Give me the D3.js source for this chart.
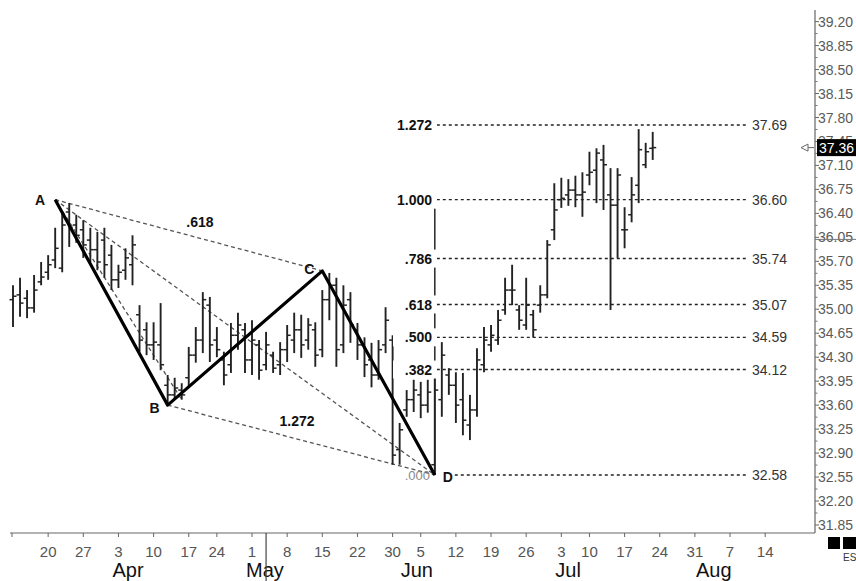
<!DOCTYPE html>
<html><head><meta charset="utf-8">
<script src="https://cdn.jsdelivr.net/npm/d3@7"></script>
<style>body{margin:0;background:#fff}svg{display:block}text{font-family:"Liberation Sans",Arial,Helvetica,sans-serif}</style>
</head><body><svg id="c" width="856" height="581"></svg>
<script>
// ---- calendar (trading days, year 2000) ----
const startDate = "2000-03-13", endDate = "2000-08-18";
const holidays = ["2000-04-21", "2000-05-29", "2000-07-04"];
const firstTickDate = "2000-03-20";
const cursorDate = "2000-05-03";

// ---- daily OHLC bars, one per trading day from startDate ----
const openP  = [35.14,35.21,35.16,35.02,35.40,35.54,35.72,35.60,36.42,36.23,36.16,36.01,35.87,36.01,35.79,35.43,35.57,35.65,34.92,34.70,
                34.48,34.48,33.89,33.75,33.82,34.00,34.33,34.55,35.06,34.55,34.26,34.19,34.62,34.70,34.26,34.48,34.19,34.33,34.19,34.41,
                34.55,34.70,34.55,34.70,34.41,35.14,35.35,34.48,35.14,34.70,34.48,34.26,34.04,34.48,34.55,32.95,33.53,33.68,33.75,33.60,
                32.73,33.68,34.04,33.89,33.68,33.31,33.53,34.19,34.48,34.55,34.99,35.28,34.99,34.77,34.92,35.06,35.21,36.16,36.60,36.67,
                36.74,36.67,36.96,37.03,37.18,36.67,36.52,36.16,36.38,36.81,37.11,37.35];
const highP  = [35.35,35.46,35.28,35.50,35.69,35.79,36.19,36.42,36.55,36.38,36.30,36.19,36.13,36.19,35.94,35.65,35.89,36.08,35.06,34.81,
                34.81,35.09,34.04,34.00,33.92,34.45,34.74,35.25,35.18,34.74,34.38,34.80,34.95,34.80,34.84,34.55,34.67,34.38,34.52,34.77,
                34.95,34.92,34.87,34.81,35.28,35.53,35.46,35.35,35.25,34.80,34.59,34.51,34.55,35.03,34.62,33.34,33.82,33.97,33.94,33.97,
                34.00,34.52,34.14,34.08,34.07,33.75,34.43,34.74,34.77,34.99,35.46,35.65,35.06,35.46,34.99,35.35,36.01,36.84,36.92,36.90,
                36.95,37.00,37.30,37.35,37.40,37.06,37.06,36.49,36.93,37.63,37.43,37.59];
const lowP   = [34.74,34.89,34.87,34.95,35.35,35.43,35.60,35.54,35.91,35.97,35.75,35.69,35.57,35.46,35.28,35.31,35.43,35.35,34.38,34.33,
                34.26,34.11,33.63,33.68,33.68,33.86,34.22,34.36,34.23,34.30,33.89,34.07,34.41,34.07,34.04,33.97,34.11,34.07,34.04,34.23,
                34.36,34.29,34.41,34.16,34.30,34.84,34.16,34.36,34.51,34.26,34.01,33.86,33.97,34.36,32.73,32.73,33.43,33.50,33.41,33.49,
                32.58,33.43,33.75,33.34,33.16,33.09,33.43,34.08,34.38,34.48,34.92,35.06,34.70,34.70,34.59,34.95,35.16,36.01,36.48,36.51,
                36.49,36.35,36.81,36.55,36.45,34.99,35.75,35.89,36.27,36.55,37.06,37.18];
const closeP = [35.19,35.09,35.02,35.28,35.47,35.65,35.89,36.23,36.19,36.08,35.94,35.87,35.69,35.65,35.43,35.54,35.75,35.94,34.55,34.48,
                34.52,34.19,33.75,33.85,33.75,34.33,34.55,35.14,34.48,34.41,34.04,34.62,34.77,34.26,34.55,34.11,34.48,34.14,34.41,34.62,
                34.70,34.48,34.77,34.33,35.14,35.35,34.41,35.06,34.77,34.48,34.19,34.04,34.41,34.84,32.87,33.24,33.68,33.82,33.60,33.79,
                33.82,34.33,33.89,33.60,33.38,33.53,34.26,34.55,34.62,34.84,35.28,35.28,34.84,35.06,34.70,35.21,35.94,36.45,36.62,36.74,
                36.67,36.71,37.00,37.28,37.11,36.52,36.96,36.16,36.67,37.33,37.30,37.36];

// ---- ABCD pattern pivots (bar index, price) ----
const pivotLabels = ["A", "B", "C", "D"];
const pivotIdx    = [6, 22, 44, 60];
const pivotPrice  = [36.60, 33.60, 35.56, 32.58];
// dashed ratio connectors
const connFrom = [[6,36.60],[22,33.60],[6,36.60],[6,36.60]];
const connTo   = [[44,35.56],[60,32.58],[60,32.58],[24,33.68]];
const connText = [".618", "1.272"];
const connTextPos = [[26.6, 36.27], [40.4, 33.37]]; // [bar index, price] anchors of the ratio texts

// ---- Fibonacci levels measured from D ----
const fibRatios = ["1.272", "1.000", ".786", ".618", ".500", ".382", ".000"];
const fibPrices = [37.69, 36.60, 35.74, 35.07, 34.59, 34.12, 32.58];
const fibValueLabels = ["37.69", "36.60", "35.74", "35.07", "34.59", "34.12", "32.58"];

// ---- price axis ----
const yTickLabels = ["31.85","32.20","32.55","32.90","33.25","33.60","33.95","34.30","34.65","35.00","35.35",
                     "35.70","36.05","36.40","36.75","37.10","37.45","37.80","38.15","38.50","38.85","39.20"];
const lastPrice = 37.36;
const markerPrice = 36.02;

// ================= drawing =================
const svg = d3.select("#c");
const parse = d3.utcParse("%Y-%m-%d");
const hol = new Set(holidays);
const days = d3.utcDay.range(parse(startDate), d3.utcDay.offset(parse(endDate), 1))
  .filter(d => d.getUTCDay() !== 0 && d.getUTCDay() !== 6 && !hol.has(d3.utcFormat("%Y-%m-%d")(d)));
const idxOf = s => days.findIndex(d => +d === +parse(s));

const x = d3.scaleLinear().domain([0, 114]).range([13, 814.4]);
const y = d3.scaleLinear().domain([31.85, 39.20]).range([525, 21.6]);

const plotRight = 815, axisY = 533;

// right axis
svg.append("line").attr("x1", plotRight).attr("x2", plotRight).attr("y1", 10).attr("y2", axisY)
  .attr("stroke", "#666").attr("stroke-width", 1.2);
const minor = d3.range(yTickLabels.length - 1).map(k => (+yTickLabels[k] + +yTickLabels[k + 1]) / 2);
svg.selectAll(".ymin").data(minor).join("line")
  .attr("x1", plotRight).attr("x2", plotRight + 2.5).attr("y1", d => y(d)).attr("y2", d => y(d))
  .attr("stroke", "#777");
svg.selectAll(".ytk").data(yTickLabels).join("line")
  .attr("x1", plotRight).attr("x2", plotRight + 4).attr("y1", d => y(+d)).attr("y2", d => y(+d))
  .attr("stroke", "#666");
svg.selectAll(".ylab").data(yTickLabels.filter(d => Math.abs(y(+d) - y(lastPrice)) > 12)).join("text")
  .attr("x", plotRight + 3).attr("y", d => y(+d)).attr("dy", "0.36em")
  .attr("font-size", 14).attr("fill", "#5a5a5a").text(d => d);
svg.append("line").attr("x1", plotRight).attr("x2", 856).attr("y1", y(markerPrice)).attr("y2", y(markerPrice))
  .attr("stroke", "#777").attr("stroke-width", 1);

// bottom axis
svg.append("line").attr("x1", 10).attr("x2", plotRight).attr("y1", axisY).attr("y2", axisY)
  .attr("stroke", "#666").attr("stroke-width", 1.2);
const weekStarts = days.filter((d, i) => i > 0 && +d3.utcMonday.floor(d) !== +d3.utcMonday.floor(days[i - 1]) && d >= parse(firstTickDate));
// continue weekly ticks past the last bar (future weeks)
const lastWeek = weekStarts[weekStarts.length - 1];
const fmtDay = d3.utcFormat("%-d");
svg.selectAll(".xtk").data(weekStarts).join("line")
  .attr("x1", d => x(days.indexOf(d))).attr("x2", d => x(days.indexOf(d)))
  .attr("y1", axisY).attr("y2", axisY + 4).attr("stroke", "#666");
svg.append("line").attr("x1", 12).attr("x2", 12).attr("y1", axisY).attr("y2", axisY + 4).attr("stroke", "#666");
svg.selectAll(".xlab").data(weekStarts).join("text")
  .attr("x", d => x(days.indexOf(d))).attr("y", 557).attr("text-anchor", "middle")
  .attr("font-size", 15).attr("fill", "#555").text(d => fmtDay(d));
const monthStarts = days.filter((d, i) => i > 0 && d.getUTCMonth() !== days[i - 1].getUTCMonth());
svg.selectAll(".mlab").data(monthStarts).join("text")
  .attr("x", d => x(days.indexOf(d)) - 6).attr("y", 577)
  .attr("font-size", 20).attr("fill", "#111").text(d => d3.utcFormat("%b")(d));
const ci = idxOf(cursorDate);
svg.append("line").attr("x1", x(ci)).attr("x2", x(ci)).attr("y1", axisY).attr("y2", 581)
  .attr("stroke", "#444").attr("stroke-width", 1.2);

// dashed connectors
const connG = svg.append("g");
connFrom.forEach((f, k) => {
  connG.append("line").attr("x1", x(f[0])).attr("y1", y(f[1])).attr("x2", x(connTo[k][0])).attr("y2", y(connTo[k][1]))
    .attr("stroke", "#555").attr("stroke-width", 1.3).attr("stroke-dasharray", "4,3");
});

// fib horizontal levels
const fibLineStart = x(pivotIdx[3]) + 2, fibLineEnd = 746;
svg.selectAll(".fibl").data(fibPrices).join("line")
  .attr("x1", (d, i) => i === fibPrices.length - 1 ? fibLineStart + 18 : fibLineStart)
  .attr("x2", fibLineEnd).attr("y1", d => y(d)).attr("y2", d => y(d))
  .attr("stroke", "#222").attr("stroke-width", 1.4).attr("stroke-dasharray", "3,3");
// vertical measuring line from D up to 1.000
svg.append("line").attr("x1", x(pivotIdx[3])).attr("x2", x(pivotIdx[3]))
  .attr("y1", y(fibPrices[6])).attr("y2", y(fibPrices[1])).attr("stroke", "#333").attr("stroke-width", 1.6);

// bars
const barsG = svg.append("g").attr("stroke", "#222").attr("stroke-width", 1.9);
highP.forEach((h, i) => {
  const cx = x(i);
  barsG.append("line").attr("x1", cx).attr("x2", cx).attr("y1", y(h)).attr("y2", y(lowP[i]));
  barsG.append("line").attr("x1", cx - 3.5).attr("x2", cx).attr("y1", y(openP[i])).attr("y2", y(openP[i])).attr("stroke-width", 1.5);
  barsG.append("line").attr("x1", cx).attr("x2", cx + 3.5).attr("y1", y(closeP[i])).attr("y2", y(closeP[i])).attr("stroke-width", 1.5);
});

// ABCD solid path
svg.append("path")
  .attr("d", d3.line().x((d, k) => x(pivotIdx[k])).y(d => y(d))(pivotPrice))
  .attr("fill", "none").attr("stroke", "#000").attr("stroke-width", 3.2).attr("stroke-linejoin", "round");

// fib ratio labels with white backing
fibRatios.forEach((r, i) => {
  const yy = y(fibPrices[i]);
  if (i < fibRatios.length - 1) {
    svg.append("rect").attr("x", 393).attr("y", yy - 9).attr("width", 44).attr("height", 18).attr("fill", "#fff");
    svg.append("text").attr("x", 432).attr("y", yy).attr("dy", "0.36em").attr("text-anchor", "end")
      .attr("font-size", 14).attr("font-weight", "bold").attr("fill", "#111").text(r);
  } else {
    svg.append("text").attr("x", 430).attr("y", yy).attr("dy", "0.36em").attr("text-anchor", "end")
      .attr("font-size", 13).attr("fill", "#888").text(r);
  }
  svg.append("text").attr("x", 752).attr("y", yy).attr("dy", "0.36em")
    .attr("font-size", 14).attr("fill", "#333").text(fibValueLabels[i]);
});

// ratio texts on connectors
connTextPos.forEach((p, k) => {
  svg.append("text").attr("x", x(p[0])).attr("y", y(p[1])).attr("dy", "0.36em").attr("text-anchor", "middle")
    .attr("font-size", 14).attr("font-weight", "bold").attr("fill", "#111").text(connText[k]);
});

// pivot letters
const letterOff = [[-15, 0], [-13, 3], [-13, -2], [13, 2]];
pivotLabels.forEach((t, k) => {
  svg.append("text").attr("x", x(pivotIdx[k]) + letterOff[k][0]).attr("y", y(pivotPrice[k]) + letterOff[k][1])
    .attr("dy", "0.36em").attr("text-anchor", "middle")
    .attr("font-size", 14).attr("font-weight", "bold").attr("fill", "#111").text(t);
});

// last price marker (the 37.45 tick label sits behind it, only its top edge showing)
const ly = y(lastPrice);
const hidden = yTickLabels.find(d => Math.abs(y(+d) - ly) <= 12);
const clip = svg.append("clipPath").attr("id", "above");
clip.append("rect").attr("x", 816).attr("y", 0).attr("width", 40).attr("height", ly - 8.5);
svg.append("text").attr("clip-path", "url(#above)").attr("x", plotRight + 3).attr("y", y(+hidden)).attr("dy", "0.36em")
  .attr("font-size", 14).attr("fill", "#5a5a5a").text(hidden);
svg.append("rect").attr("x", 817).attr("y", ly - 8.5).attr("width", 40).attr("height", 17).attr("fill", "#000");
svg.append("text").attr("x", 819).attr("y", ly).attr("dy", "0.36em").attr("font-size", 14).attr("fill", "#fff")
  .text(lastPrice.toFixed(2));
svg.append("path").attr("d", `M801,${ly} L808,${ly - 3.5} L808,${ly + 3.5} Z M808,${ly} L814,${ly}`)
  .attr("fill", "none").attr("stroke", "#666").attr("stroke-width", 1);

// symbol box bottom right
svg.append("rect").attr("x", 828).attr("y", 537).attr("width", 12).attr("height", 12).attr("fill", "#000");
svg.append("rect").attr("x", 843).attr("y", 537).attr("width", 13).attr("height", 12).attr("fill", "#000");
svg.append("text").attr("x", 843).attr("y", 561).attr("font-size", 10).attr("fill", "#333").text("ES");
</script></body></html>
